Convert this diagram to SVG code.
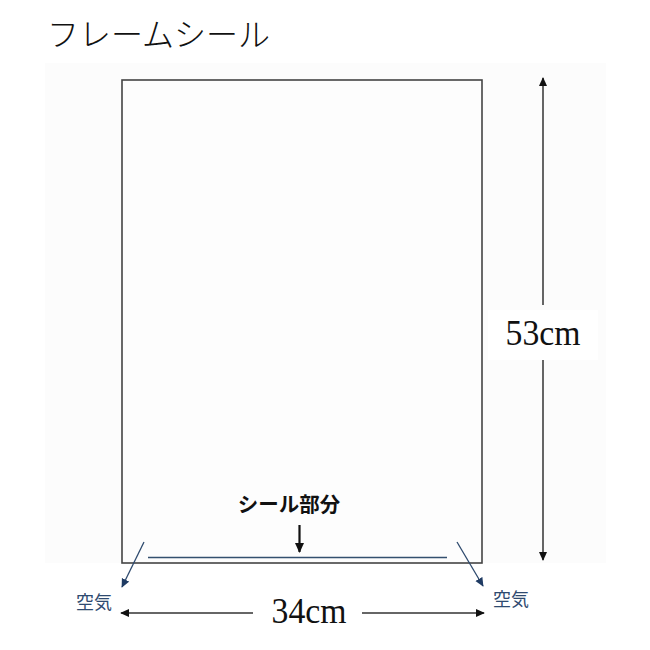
<svg xmlns="http://www.w3.org/2000/svg" width="650" height="650" viewBox="0 0 650 650">
<style>
.dim{stroke:#333;stroke-width:1.5;fill:none}
.air{stroke:#2e4a6e;stroke-width:1.3;fill:none}
.num{font-family:"Liberation Serif","Times New Roman",serif;font-size:36px;fill:#111}
.jp{font-family:"Noto Sans CJK JP",sans-serif}
</style>
<defs>
<marker id="ah" viewBox="0 0 10 10" refX="9" refY="5" markerWidth="9" markerHeight="9" markerUnits="userSpaceOnUse" orient="auto">
<path d="M0,0.5 L10,5 L0,9.5 z" fill="#111"/>
</marker>
<marker id="ad" viewBox="0 0 10 10" refX="9" refY="5" markerWidth="10" markerHeight="10" markerUnits="userSpaceOnUse" orient="auto">
<path d="M0,0.5 L10,5 L0,9.5 z" fill="#111"/>
</marker>
<marker id="ab" viewBox="0 0 10 10" refX="9" refY="5" markerWidth="9" markerHeight="9" markerUnits="userSpaceOnUse" orient="auto">
<path d="M0,0.5 L10,5 L0,9.5 z" fill="#1f3b63"/>
</marker>
</defs>
<rect width="650" height="650" fill="#fff"/>
<rect x="45" y="63" width="561" height="500" fill="#fcfcfc"/>
<g id="title"><text class="jp" x="47" y="46" font-size="32" font-weight="300" fill="#111">フレームシール</text></g>
<g id="bag">
<rect x="122" y="80" width="360" height="483" fill="#fdfdfd" stroke="#444" stroke-width="1.6"/>
</g>
<g id="seal-line"><line x1="148" y1="557.5" x2="447" y2="557.5" stroke="#34506f" stroke-width="1.3"/></g>
<g id="seal-label"><text class="jp" x="289" y="512" font-size="20.5" font-weight="bold" fill="#111" text-anchor="middle">シール部分</text></g>
<g id="height-label">
<rect x="488" y="310" width="110" height="50" fill="#fff"/>
<text class="num" x="543" y="345" text-anchor="middle" textLength="75" lengthAdjust="spacingAndGlyphs">53cm</text>
</g>
<g id="width-label">
<rect x="258" y="590" width="98" height="45" fill="#fff"/>
<text class="num" x="309" y="623" text-anchor="middle" textLength="75" lengthAdjust="spacingAndGlyphs">34cm</text>
</g>
<g id="air-left"><text class="jp" x="94" y="609" font-size="18" fill="#2e4a70" text-anchor="middle">空気</text></g>
<g id="air-right"><text class="jp" x="511" y="606" font-size="18" fill="#2e4a70" text-anchor="middle">空気</text></g>
<g id="connectors">
<line class="dim" x1="543" y1="305" x2="543" y2="78" marker-end="url(#ah)"/>
<line class="dim" x1="543" y1="360" x2="543" y2="560" marker-end="url(#ah)"/>
<line class="dim" x1="253" y1="613" x2="121" y2="613" marker-end="url(#ah)"/>
<line class="dim" x1="362" y1="613" x2="484" y2="613" marker-end="url(#ah)"/>
<line x1="299.5" y1="525" x2="299.5" y2="552" stroke="#111" stroke-width="2.2" marker-end="url(#ad)"/>
<line class="air" x1="144" y1="542" x2="122" y2="587" marker-end="url(#ab)"/>
<line class="air" x1="457" y1="542" x2="483" y2="586" marker-end="url(#ab)"/>
</g>
</svg>
